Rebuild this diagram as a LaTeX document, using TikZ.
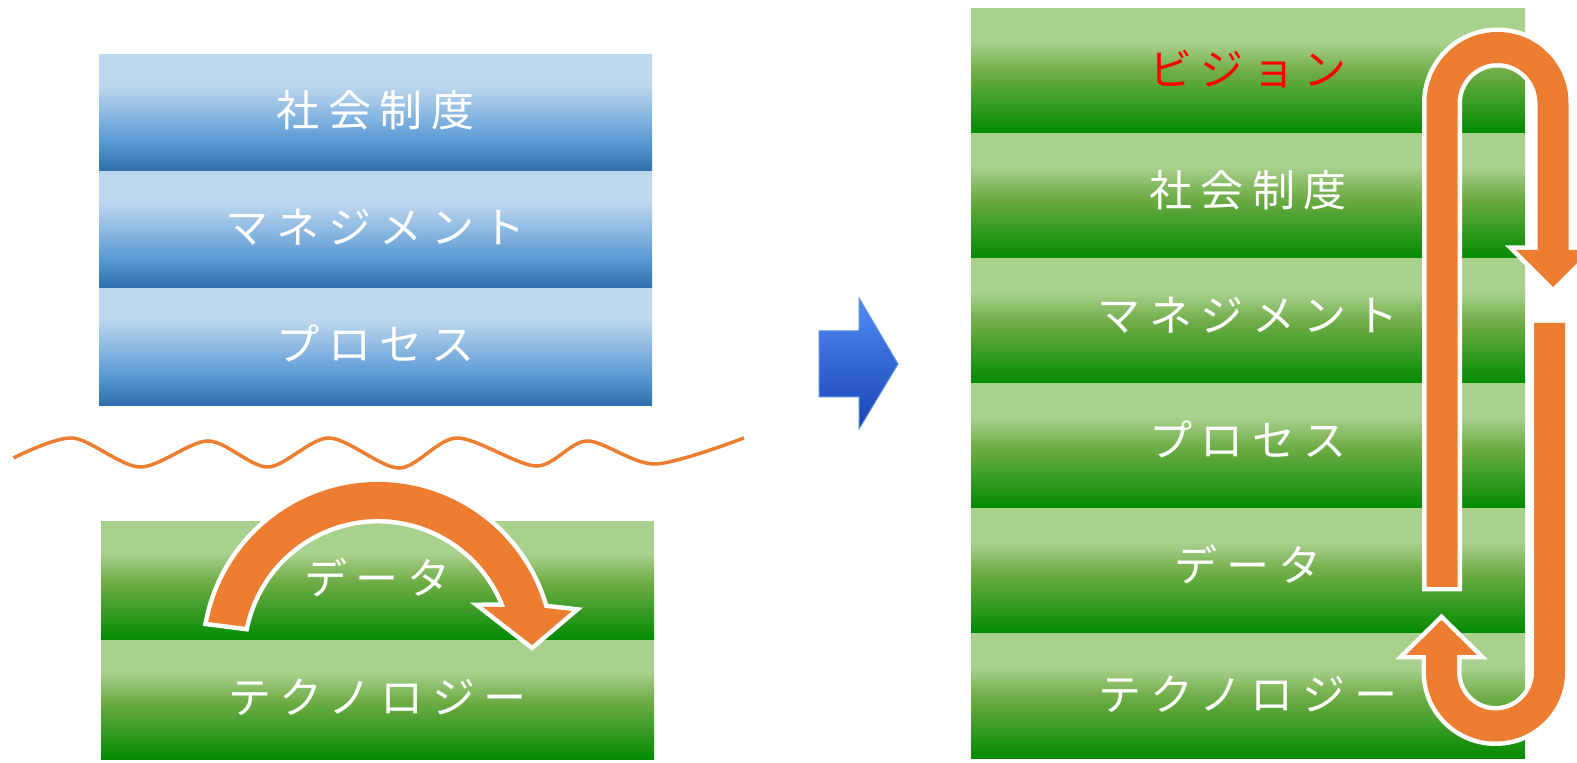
\documentclass[tikz,border=0pt]{standalone}
\usepackage{fontspec}
\setmainfont{Noto Sans CJK JP}[LetterSpace=20]
\usetikzlibrary{calc}

\definecolor{arroworange}{HTML}{ED7D31}
\definecolor{glight}{HTML}{A9D18E}
\definecolor{gmid}{HTML}{70AD47}
\definecolor{gdark}{HTML}{008A00}
\definecolor{blight}{HTML}{BDD7EE}
\definecolor{bmid}{HTML}{5B9BD5}
\definecolor{bdark}{HTML}{2E6DAB}
\definecolor{ptrtop}{HTML}{508CF5}
\definecolor{ptrbottom}{HTML}{1843B2}
\definecolor{ptredge}{HTML}{5E8FDC}

\pgfdeclareverticalshading{greenshade}{100bp}{color(0bp)=(gdark); color(25bp)=(gdark);
  color(50bp)=(gmid); color(62bp)=(glight); color(100bp)=(glight)}
\pgfdeclareverticalshading{blueshade}{100bp}{color(0bp)=(bdark); color(25bp)=(bdark);
  color(38.5bp)=(bmid); color(62bp)=(blight); color(100bp)=(blight)}

\begin{document}
\begin{tikzpicture}[x=1pt,y=1pt,
    band/.style={inner sep=0pt,outer sep=0pt,text=white,text height=36pt,text depth=10pt,
      font=\fontsize{43}{50}\selectfont},
    blueband/.style={band,shading=blueshade,minimum width=553pt,minimum height=117pt},
    greenband/.style={band,shading=greenshade,minimum width=553pt,minimum height=119pt},
    stackband/.style={band,text depth=16pt,shading=greenshade,minimum width=554pt,minimum height=125pt},
    orangearrow/.style={fill=arroworange,preaction={draw=white,line width=9pt}}]
	\useasboundingbox (0,0) rectangle (1577,763);
	\clip (0,0) rectangle (1577,763);

	%% left: upper layers
	\node [blueband] (lsha) at (375.5,649.5) {社会制度};
	\node [blueband] (lman) at (375.5,532.5) {マネジメント};
	\node [blueband] (lpro) at (375.5,415.5) {プロセス};

	%% gap line
	\draw [arroworange,line width=3.5pt] plot [smooth] coordinates {(13.5,305) (72.5,325)
	  (140,296) (208,322) (268,296) (329,325) (399,295) (457,325) (536,297) (587,322)
	  (655,299) (744,325)};

	%% left: lower layers
	\node [greenband] (ldat) at (377.5,181.5) {データ};
	\node [greenband] (ltec) at (377.5,62.5) {テクノロジー};

	\coordinate (dc) at (378,108);
	\path [orangearrow] ($(dc)+(169:173)$) arc [start angle=169,end angle=15.8,radius=173]
	  -- (572,152) -- (532,118) -- (483,156) -- ($(dc)+(20.7:136)$)
	  arc [start angle=20.7,end angle=168,radius=136] -- cycle;

	%% middle arrow
	\path [draw=ptredge,line width=1pt,top color=ptrtop,bottom color=ptrbottom]
	  (819,366) -- (819,432) -- (859,432) -- (859,465) -- (898,399) -- (859,334)
	  -- (859,366) -- cycle;

	%% right: whole stack
	\node [stackband,text=red,text depth=8pt] (rvis) at (1248,691.5) {ビジョン};
	\node [stackband] (rsha) at (1248,566.5) {社会制度};
	\node [stackband] (rman) at (1248,441.5) {マネジメント};
	\node [stackband] (rpro) at (1248,316.5) {プロセス};
	\node [stackband] (rdat) at (1248,191.5) {データ};
	\node [stackband,text depth=8pt] (rtec) at (1248,66.5) {テクノロジー};

	%% loop: up and over, then down and back up
	\path [orangearrow] (1426.5,176) -- (1426.5,660) arc [start angle=180,end angle=0,radius=71]
	  -- (1568.5,513) -- (1590,513) -- (1553,476) -- (1516,513) -- (1537.5,513)
	  -- (1537.5,660) arc [start angle=0,end angle=180,radius=40] -- (1457.5,176) -- cycle;
	\path [orangearrow] (1565,440) -- (1565,91) arc [start angle=0,end angle=-180,radius=69.5]
	  -- (1426,108) -- (1406,108) -- (1441.5,143) -- (1477,108) -- (1457,108)
	  -- (1457,91) arc [start angle=180,end angle=360,radius=38.5] -- (1534,440) -- cycle;

\end{tikzpicture}
\end{document}
